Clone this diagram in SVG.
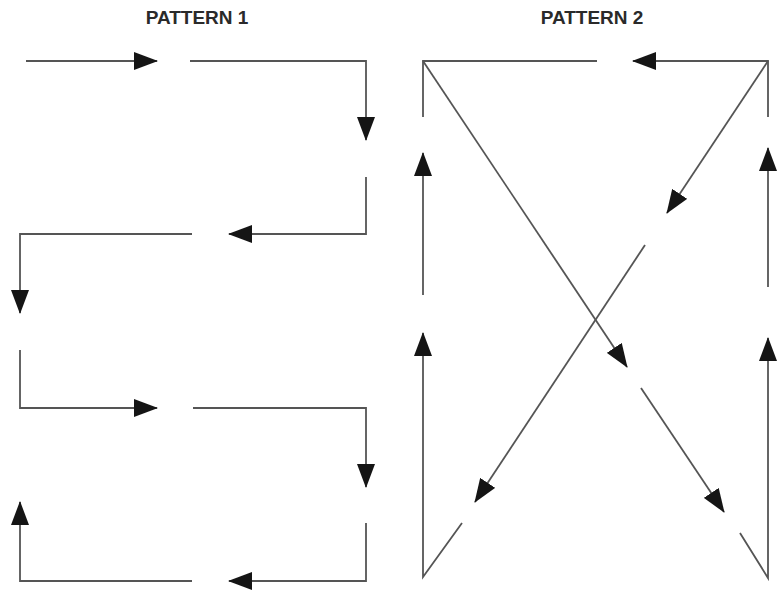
<svg xmlns="http://www.w3.org/2000/svg" width="780" height="591" viewBox="0 0 780 591">
<defs>
<style>
.t{font-family:"Liberation Sans",Arial,sans-serif;font-weight:bold;font-size:19px;fill:#2a2a2a;text-anchor:middle}
.c{fill:none;stroke:#555;stroke-width:1.8;stroke-linejoin:miter}
.a{marker-end:url(#ah)}
</style>
<marker id="ah" markerUnits="userSpaceOnUse" markerWidth="24" markerHeight="18" refX="23" refY="9" orient="auto" viewBox="0 0 24 18">
<path d="M0,0 L24,9 L0,18 Z" fill="#151515"/>
</marker>
</defs>
<rect width="780" height="591" fill="#fff"/>
<g id="title1"><text class="t" x="197" y="24">PATTERN 1</text></g>
<g id="title2"><text class="t" x="592" y="24">PATTERN 2</text></g>
<g id="connectors">
<g id="pattern1">
<path class="c a" d="M26,61 H157"/>
<path class="c a" d="M190,61 H366 V140"/>
<path class="c a" d="M366,177 V234 H229"/>
<path class="c a" d="M192,234 H20 V313"/>
<path class="c a" d="M20,350 V408 H157"/>
<path class="c a" d="M193,408 H366 V487"/>
<path class="c a" d="M366,523 V581 H229"/>
<path class="c a" d="M192,581 H20 V502"/>
</g>
<g id="pattern2">
<path class="c a" d="M768,117 V61 H633"/>
<path class="c" d="M423,117 V61 H597"/>
<path class="c a" d="M423,295 V153"/>
<path class="c a" d="M462,523 L423,577 V333"/>
<path class="c a" d="M768,287 V148"/>
<path class="c a" d="M740,533 L768,578 V338"/>
<path class="c a" d="M423,61 L627,367"/>
<path class="c a" d="M641,388 L724,512"/>
<path class="c a" d="M768,61 L667,213"/>
<path class="c a" d="M645,245 L475,502"/>
</g>
</g>
</svg>
